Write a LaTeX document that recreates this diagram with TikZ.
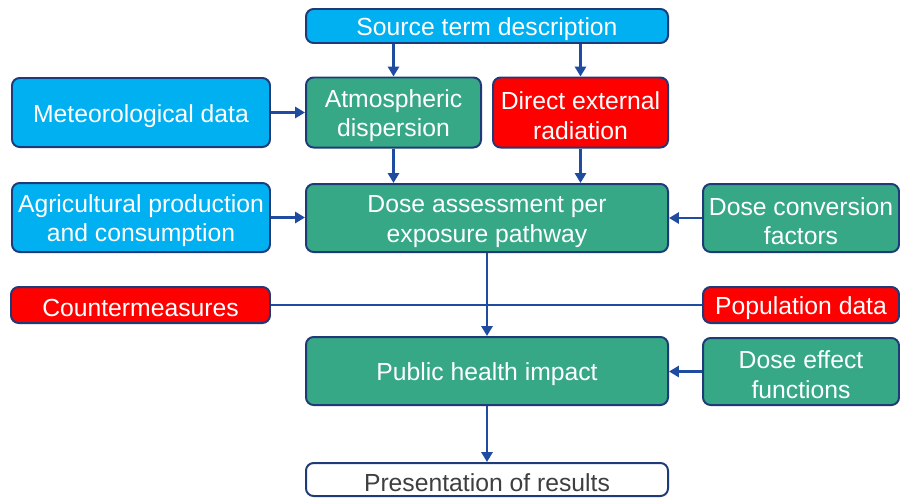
\documentclass[tikz,border=0pt]{standalone}
\usepackage{fontspec}
\setmainfont{Liberation Sans}
\usetikzlibrary{arrows.meta}
\definecolor{lblue}{HTML}{00B0F0}
\definecolor{dgreen}{HTML}{36A886}
\definecolor{bred}{HTML}{FF0000}
\definecolor{edge}{HTML}{1F3A78}
\definecolor{arr}{HTML}{1F4BA0}
\definecolor{dgrey}{HTML}{3F3F3F}
\newcommand{\tstrut}{\rule{0pt}{0.98em}}
\begin{document}
\begin{tikzpicture}[x=0.03cm,y=-0.03cm,
  box/.style={draw=edge, line width=1.7pt, rounded corners=6.5pt, inner sep=0pt,
    align=center, text=white, font=\fontsize{21.1}{25.5}\selectfont},
  blu/.style={box, fill=lblue},
  grn/.style={box, fill=dgreen},
  rd/.style={box, fill=bred},
  wht/.style={box, fill=white, text=dgrey},
  conn/.style={draw=arr, line width=2.3pt, -{Triangle[length=8.5pt,width=9.5pt]}},
  plainline/.style={draw=arr, line width=2.3pt}]
\useasboundingbox (0,0) rectangle (900,497);
\node[blu, minimum width=362*0.03cm, minimum height=34*0.03cm] (src) at (487,26) {\tstrut Source term description};
\node[grn, minimum width=175*0.03cm, minimum height=70*0.03cm] (atm) at (393.5,112.5) {\tstrut Atmospheric\\dispersion};
\node[rd, minimum width=175*0.03cm, minimum height=70*0.03cm] (dir) at (580.5,112.5) {\tstrut Direct external\\radiation};
\node[blu, minimum width=258*0.03cm, minimum height=69*0.03cm] (met) at (141,112.5) {\tstrut Meteorological data};
\node[blu, minimum width=258*0.03cm, minimum height=69*0.03cm] (agr) at (141,217.5) {\tstrut Agricultural production\\and consumption};
\node[grn, minimum width=362*0.03cm, minimum height=68*0.03cm] (dose) at (487,218) {\tstrut Dose assessment per\\exposure pathway};
\node[grn, minimum width=196*0.03cm, minimum height=68*0.03cm] (conv) at (801,218) {\tstrut Dose conversion\\factors};
\node[rd, minimum width=259*0.03cm, minimum height=36*0.03cm] (cm) at (140.5,305) {\tstrut Countermeasures};
\node[rd, minimum width=196*0.03cm, minimum height=36*0.03cm] (pop) at (801,305) {\tstrut Population data};
\node[grn, minimum width=362*0.03cm, minimum height=68*0.03cm] (pub) at (487,371) {\tstrut Public health impact};
\node[grn, minimum width=196*0.03cm, minimum height=67*0.03cm] (eff) at (801,371.5) {\tstrut Dose effect\\functions};
\node[wht, minimum width=362*0.03cm, minimum height=33*0.03cm] (pres) at (487,479.5) {\tstrut Presentation of results};
% connectors
\draw[conn] (src.south -| atm.north) -- (atm.north);
\draw[conn] (src.south -| dir.north) -- (dir.north);
\draw[conn] (atm.south) -- (atm.south |- dose.north);
\draw[conn] (dir.south) -- (dir.south |- dose.north);
\draw[conn] (met.east) -- (atm.west);
\draw[conn] (agr.east) -- (agr.east -| dose.west);
\draw[conn] (conv.west) -- (conv.west -| dose.east);
\draw[plainline] (cm.east) -- (pop.west);
\draw[conn] (dose.south) -- (pub.north);
\draw[conn] (eff.west) -- (eff.west -| pub.east);
\draw[conn] (pub.south) -- (pres.north);
\end{tikzpicture}
\end{document}
